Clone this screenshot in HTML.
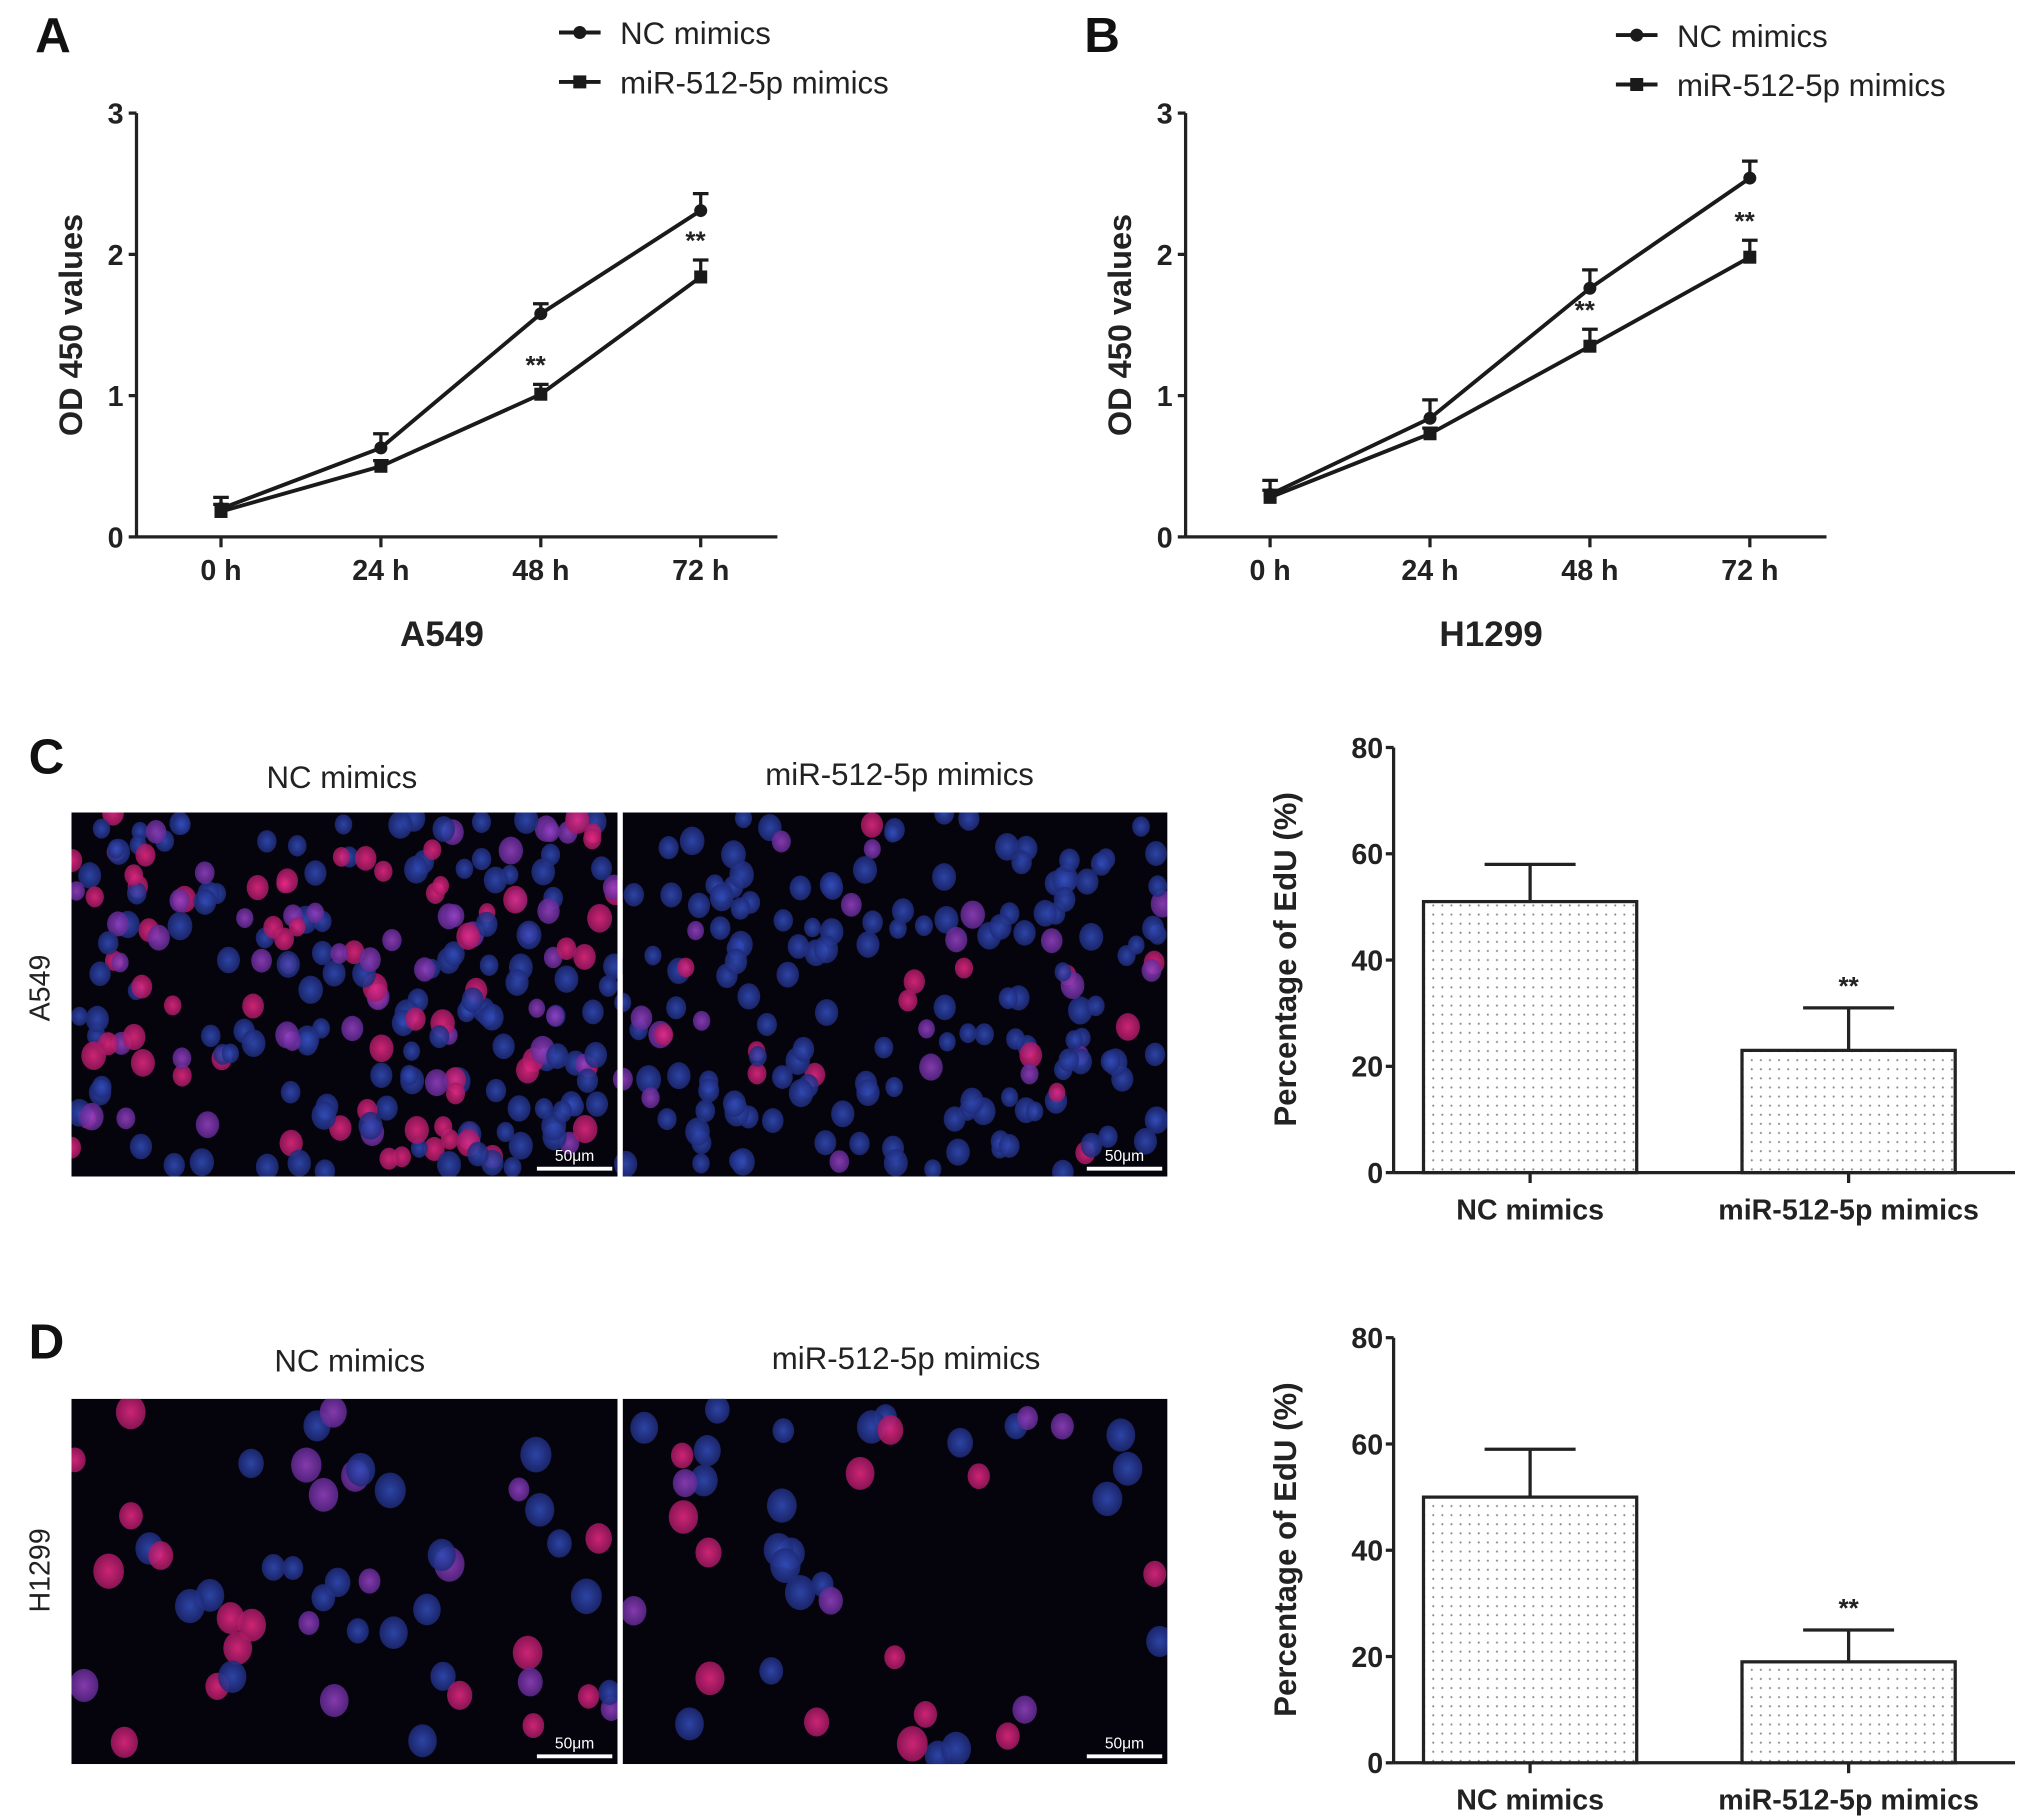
<!DOCTYPE html>
<html><head><meta charset="utf-8">
<style>
html,body{margin:0;padding:0;background:#fff;}
svg{display:block;}
text{font-family:"Liberation Sans",Arial,sans-serif;}
</style></head>
<body>
<svg id="fig" width="2031" height="1820" viewBox="0 0 1562.3 1400" preserveAspectRatio="none" xmlns="http://www.w3.org/2000/svg">
<defs>
<pattern id="dots" width="7" height="7" patternUnits="userSpaceOnUse"><rect width="7" height="7" fill="#fff"/><circle cx="3.5" cy="3.5" r="0.8" fill="#888"/></pattern>
<radialGradient id="gb"><stop offset="0" stop-color="#3450c0"/><stop offset="1" stop-color="#1e2a78"/></radialGradient>
<radialGradient id="gp"><stop offset="0" stop-color="#f02a86"/><stop offset="1" stop-color="#a01862"/></radialGradient>
<radialGradient id="gv"><stop offset="0" stop-color="#9a44c8"/><stop offset="1" stop-color="#5f2890"/></radialGradient>
</defs>
<g id="root"></g>
</svg>
<script>
// ---- data: line charts ----
const timeLabels = ["0 h","24 h","48 h","72 h"];
const yTicksOD = [0,1,2,3];
const a549NC = [0.20,0.63,1.58,2.31];
const a549NCerr = [0.08,0.10,0.07,0.12];
const a549Mir = [0.18,0.50,1.01,1.84];
const a549MirErr = [0.05,0.04,0.07,0.12];
const h1299NC = [0.30,0.84,1.76,2.54];
const h1299NCerr = [0.10,0.13,0.13,0.12];
const h1299Mir = [0.28,0.73,1.35,1.98];
const h1299MirErr = [0.05,0.04,0.12,0.12];
const a549Stars = [2,3];
const h1299Stars = [2,3];
// ---- data: bar charts ----
const barCats = ["NC mimics","miR-512-5p mimics"];
const yTicksEdU = [0,20,40,60,80];
const edUA549 = [51,23];
const edUA549Err = [7,8];
const edUH1299 = [50,19];
const edUH1299Err = [9,6];

const NS="http://www.w3.org/2000/svg";
const root=document.getElementById('root');
function el(tag,attrs,parent,txt){const e=document.createElementNS(NS,tag);for(const k in attrs)e.setAttribute(k,attrs[k]);if(txt!==undefined)e.textContent=txt;(parent||root).appendChild(e);return e;}
function grp(name,parent){const g=el('g',{},parent);return g;}

function lineChart(o){
  const g=grp(o.name);
  const x0=o.ax, x1=o.ax+493, yb=413, yt=87;
  const xs=i=>o.ax+65+i*123;
  const ys=v=>yb-(v-0)/(3-0)*(yb-yt);
  const axes=grp(o.name+'-axes',g);
  el('line',{x1:x0,y1:yt,x2:x0,y2:yb,stroke:'#222','stroke-width':2.5},axes);
  el('line',{x1:x0,y1:yb,x2:x1,y2:yb,stroke:'#222','stroke-width':2.5},axes);
  yTicksOD.forEach(t=>{
    el('line',{x1:x0-6,y1:ys(t),x2:x0,y2:ys(t),stroke:'#222','stroke-width':2.5},axes);
    const tx=el('text',{x:x0-10,y:ys(t)+8,'text-anchor':'end','font-size':22,'font-weight':'bold',fill:'#222'},axes,t);
    
    
  });
  timeLabels.forEach((l,i)=>{
    el('line',{x1:xs(i),y1:yb,x2:xs(i),y2:yb+8,stroke:'#222','stroke-width':2.5},axes);
    const tx=el('text',{x:xs(i),y:446,'text-anchor':'middle','font-size':22,'font-weight':'bold',fill:'#222'},axes,l);
    
    
  });
  const xt=el('text',{x:o.ax+235,y:497,'text-anchor':'middle','font-size':27,'font-weight':'bold',fill:'#222'},g,o.title);
  
  
  const yt2=el('text',{transform:`translate(${o.ax-42},250) rotate(-90)`,'text-anchor':'middle','font-size':25,'font-weight':'bold',fill:'#222'},g,'OD 450 values');
  
  
  [[o.nc,o.ncErr,'circle','nc'],[o.mir,o.mirErr,'square','mir']].forEach(([vals,err,shape,key])=>{
    const sg=grp(o.name+'-series-'+key,g);
    const pl=el('polyline',{points:vals.map((v,i)=>xs(i)+','+ys(v)).join(' '),fill:'none',stroke:'#1a1a1a','stroke-width':3},sg);
    
    
    vals.forEach((v,i)=>{
      const e=el('path',{d:`M${xs(i)},${ys(v)}V${ys(v+err[i])}M${xs(i)-6},${ys(v+err[i])}H${xs(i)+6}`,stroke:'#1a1a1a','stroke-width':2.5,fill:'none'},sg);
      
      
      const m=shape==='circle'?el('circle',{cx:xs(i),cy:ys(v),r:5,fill:'#1a1a1a'},sg):el('rect',{x:xs(i)-5,y:ys(v)-5,width:10,height:10,fill:'#1a1a1a'},sg);
      
      
    });
  });
  o.stars.forEach(i=>{
    const top=Math.max(o.mir[i]+o.mirErr[i],0);
    const s=el('text',{x:xs(i)-4,y:ys(top)-8,'text-anchor':'middle','font-size':20,'font-weight':'bold',fill:'#222'},g,'**');
    
    
  });
  const lg=grp(o.name+'-legend',g);
  [['NC mimics','circle'],['miR-512-5p mimics','square']].forEach(([t,sh],k)=>{
    const y=o.ly+k*38;
    el('line',{x1:o.lx,y1:y,x2:o.lx+32,y2:y,stroke:'#1a1a1a','stroke-width':3},lg);
    if(sh==='circle')el('circle',{cx:o.lx+16,cy:y,r:5,fill:'#1a1a1a'},lg);else el('rect',{x:o.lx+11,y:y-5,width:10,height:10,fill:'#1a1a1a'},lg);
    const tx=el('text',{x:o.lx+47,y:y+9,'font-size':24,fill:'#222'},lg,t);
    
    
  });
  const L=el('text',{x:o.ax-78,y:40,'font-size':38,'font-weight':'bold',fill:'#111'},g,o.letter);
  
  
}
lineChart({name:'chart-a549-growth',ax:105,title:'A549',nc:a549NC,ncErr:a549NCerr,mir:a549Mir,mirErr:a549MirErr,stars:a549Stars,lx:430,ly:25,letter:'A'});
lineChart({name:'chart-h1299-growth',ax:912,title:'H1299',nc:h1299NC,ncErr:h1299NCerr,mir:h1299Mir,mirErr:h1299MirErr,stars:h1299Stars,lx:1243,ly:27,letter:'B'});

function barChart(o){
  const g=grp(o.name);
  const x0=1072,x1=1550,yb=o.yb,yt=o.yb-327;
  const ys=v=>yb-v/80*(yb-yt);
  const bx=[1095,1340], bw=164;
  const axes=grp(o.name+'-axes',g);
  el('line',{x1:x0,y1:yt,x2:x0,y2:yb,stroke:'#222','stroke-width':2.5},axes);
  el('line',{x1:x0,y1:yb,x2:x1,y2:yb,stroke:'#222','stroke-width':2.5},axes);
  yTicksEdU.forEach(t=>{
    el('line',{x1:x0-6,y1:ys(t),x2:x0,y2:ys(t),stroke:'#222','stroke-width':2.5},axes);
    const tx=el('text',{x:x0-8,y:ys(t)+8,'text-anchor':'end','font-size':22,'font-weight':'bold',fill:'#222'},axes,t);
    
    
  });
  barCats.forEach((c,i)=>{
    const cx=bx[i]+bw/2;
    el('line',{x1:cx,y1:yb,x2:cx,y2:yb+8,stroke:'#222','stroke-width':2.5},axes);
    const tx=el('text',{x:cx,y:yb+36,'text-anchor':'middle','font-size':22,'font-weight':'bold',fill:'#222'},axes,c);
    
    
    const v=o.vals[i],e=o.err[i];
    const eb=el('path',{d:`M${cx},${ys(v)}V${ys(v+e)}M${cx-35},${ys(v+e)}H${cx+35}`,stroke:'#222','stroke-width':2.5,fill:'none'},g);
    
    
    const r=el('rect',{x:bx[i],y:ys(v),width:bw,height:yb-ys(v),fill:'url(#dots)',stroke:'#222','stroke-width':2.5},g);
    
    
  });
  const s=el('text',{x:bx[1]+bw/2,y:ys(o.vals[1]+o.err[1])-10,'text-anchor':'middle','font-size':20,'font-weight':'bold',fill:'#222'},g,'**');
  
  
  const yt2=el('text',{transform:`translate(997,${yb-164}) rotate(-90)`,'text-anchor':'middle','font-size':24,'font-weight':'bold',fill:'#222'},g,'Percentage of EdU (%)');
  
  
}
barChart({name:'chart-a549-edu',yb:902,vals:edUA549,err:edUA549Err});
barChart({name:'chart-h1299-edu',yb:1356,vals:edUH1299,err:edUH1299Err});

// ---- decorative microscopy images (not chart data) ----
let seed=7;function rnd(){seed=(seed*16807)%2147483647;return seed/2147483647;}
function micro(name,x,y,w,h,n,pinkFrac,r0){
  const g=grp(name);
  el('rect',{x:x,y:y,width:w,height:h,fill:'#05030c'},g);
  const cg=el('g',{},g);
  for(let i=0;i<n;i++){
    const cx=x+rnd()*w, cy=y+rnd()*h, rr=r0*(0.8+rnd()*0.4);
    const q=rnd();const f=q<pinkFrac?'url(#gp)':(q<pinkFrac*1.8?'url(#gv)':'url(#gb)');
    el('ellipse',{cx:cx,cy:cy,rx:rr,ry:rr*1.15,fill:f,opacity:0.85},cg);
  }
  el('line',{x1:x+w-62,y1:y+h-6,x2:x+w-4,y2:y+h-6,stroke:'#fff','stroke-width':3},g);
  const t=el('text',{x:x+w-33,y:y+h-12,'text-anchor':'middle','font-size':12,fill:'#fff'},g,'50μm');
  
  
}
micro('image-a549-nc',55,625,420,280,240,0.28,8);
micro('image-a549-mir',479,625,419,280,180,0.12,8);
micro('image-h1299-nc',55,1076,420,281,50,0.35,10);
micro('image-h1299-mir',479,1076,419,281,42,0.2,10);
[[0,600,55,330],[898,600,70,330],[0,905,970,40],[0,1040,55,340],[898,1040,70,340],[0,1357,970,43],[0,600,970,25],[0,1050,970,26],[475,620,4,290],[475,1070,4,290]].forEach(b=>el('rect',{x:b[0],y:b[1],width:b[2],height:b[3],fill:'#fff'}));
function label(t,x,y,size,name,extra){const e=el('text',Object.assign({x:x,y:y,'font-size':size,fill:'#222'},extra||{}),root,t);return e;}
label('NC mimics',263,606,24,'image-title',{'text-anchor':'middle'});
label('miR-512-5p mimics',692,604,24,'image-title',{'text-anchor':'middle'});
label('NC mimics',269,1055,24,'image-title',{'text-anchor':'middle'});
label('miR-512-5p mimics',697,1053,24,'image-title',{'text-anchor':'middle'});
label('A549',0,0,22,'row-label',{transform:'translate(38,760) rotate(-90)','text-anchor':'middle'});
label('H1299',0,0,22,'row-label',{transform:'translate(38,1208) rotate(-90)','text-anchor':'middle'});
label('C',22,595,38,'panel-label',{'font-weight':'bold',fill:'#111'});
label('D',22,1045,38,'panel-label',{'font-weight':'bold',fill:'#111'});
</script>
</body></html>
